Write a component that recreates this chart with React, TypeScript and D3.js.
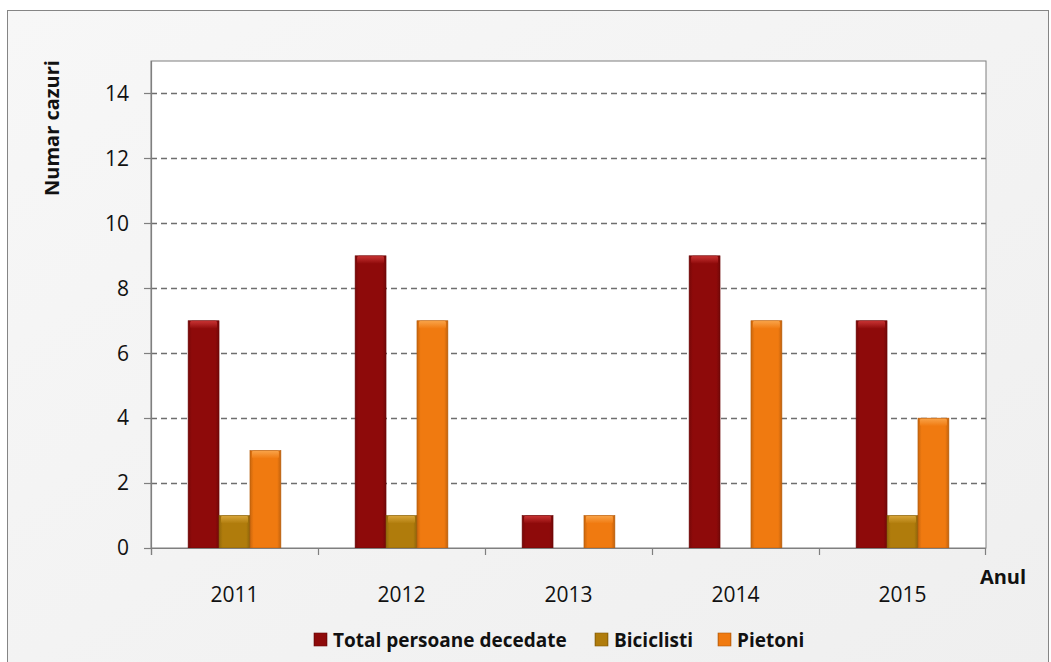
import React from "react";
import * as d3 from "d3";

const years = ["2011", "2012", "2013", "2014", "2015"];
const seriesNames = ["Total persoane decedate", "Biciclisti", "Pietoni"];
const totalValues = [7, 9, 1, 9, 7];
const bicicValues = [1, 1, 0, 0, 1];
const pietoniValues = [3, 7, 1, 7, 4];
const yTicks = [0, 2, 4, 6, 8, 10, 12, 14];
const seriesColors = ["#8e0a0a", "#b07c0c", "#f07a10"];
const seriesLight = ["#c93434", "#d9a63a", "#f9a44a"];

const W = 1051;
const H = 662;
const plot = { left: 151, top: 61, right: 986, bottom: 548 };
const FONT = "'Open Sans', sans-serif";

export default function App() {
  const x = d3.scaleBand<string>().domain(years).range([plot.left, plot.right]).paddingInner(0).paddingOuter(0);
  const y = d3.scaleLinear().domain([0, 15]).range([plot.bottom, plot.top]);
  const inner = d3
    .scaleBand<number>()
    .domain([0, 1, 2])
    .range([0, x.bandwidth()])
    .paddingInner(0)
    .paddingOuter(1.2);
  const allSeries = [totalValues, bicicValues, pietoniValues];

  const legendItems = [
    { x: 314, w: 255 },
    { x: 595, w: 100 },
    { x: 718, w: 100 },
  ];

  return (
    <svg width={W} height={H} style={{ position: "fixed", left: 0, top: 0 }} fontFamily={FONT}>
      <defs>
        <linearGradient id="bgGrad" x1="0" y1="0" x2="1" y2="1">
          <stop offset="0" stopColor="#f7f7f7" />
          <stop offset="1" stopColor="#efefef" />
        </linearGradient>
        {seriesColors.map((c, i) => (
          <linearGradient key={i} id={`bar${i}`} x1="0" y1="0" x2="1" y2="0">
            <stop offset="0" stopColor={d3.color(c)!.darker(0.5).toString()} />
            <stop offset="0.12" stopColor={c} />
            <stop offset="0.88" stopColor={c} />
            <stop offset="1" stopColor={d3.color(c)!.darker(0.6).toString()} />
          </linearGradient>
        ))}
        {seriesColors.map((c, i) => (
          <linearGradient key={"t" + i} id={`top${i}`} x1="0" y1="0" x2="0" y2="1">
            <stop offset="0" stopColor={seriesLight[i]} />
            <stop offset="1" stopColor={c} />
          </linearGradient>
        ))}
      </defs>
      <rect x={0} y={0} width={W} height={H} fill="#ffffff" />
      <rect x={7.5} y={10.5} width={1041} height={660} fill="url(#bgGrad)" stroke="#858585" strokeWidth={1} />
      <rect
        x={plot.left}
        y={plot.top}
        width={plot.right - plot.left}
        height={plot.bottom - plot.top}
        fill="#ffffff"
        stroke="#7f7f7f"
        strokeWidth={1}
      />
      {yTicks
        .filter((t) => t > 0)
        .map((t) => (
          <line
            key={t}
            x1={plot.left}
            x2={plot.right}
            y1={Math.round(y(t)) + 0.5}
            y2={Math.round(y(t)) + 0.5}
            stroke="#6e6e6e"
            strokeWidth={1.3}
            strokeDasharray="6,4"
          />
        ))}
      {years.map((yr, gi) =>
        allSeries.map((vals, si) => {
          const v = vals[gi];
          if (v <= 0) return null;
          const bx = (x(yr) as number) + (inner(si) as number);
          const bw = inner.bandwidth();
          const by = y(v);
          const bh = y(0) - y(v);
          return (
            <g key={yr + si}>
              <rect x={bx} y={by} width={bw} height={bh} fill={`url(#bar${si})`} />
              <rect x={bx + 2} y={by} width={bw - 4} height={Math.min(8, bh)} fill={`url(#top${si})`} rx={2} />
              <rect x={bx} y={by} width={bw} height={bh} fill="none" stroke={d3.color(seriesColors[si])!.darker(0.8).toString()} strokeWidth={0.6} />
            </g>
          );
        })
      )}
      {/* y axis */}
      <line x1={plot.left + 0.5} x2={plot.left + 0.5} y1={plot.top} y2={plot.bottom + 7} stroke="#7f7f7f" strokeWidth={1.2} />
      {yTicks.map((t) => (
        <g key={t}>
          <line x1={plot.left - 7} x2={plot.left} y1={Math.round(y(t)) + 0.5} y2={Math.round(y(t)) + 0.5} stroke="#7f7f7f" strokeWidth={1.2} />
          <text x={129} y={y(t)} dy="0.35em" textAnchor="end" fontSize={21} fill="#111">
            {t}
          </text>
        </g>
      ))}
      {/* x axis */}
      <line x1={plot.left} x2={plot.right} y1={plot.bottom + 0.5} y2={plot.bottom + 0.5} stroke="#7f7f7f" strokeWidth={1.2} />
      {years.map((yr, i) => (
        <line
          key={"xt" + i}
          x1={Math.round(x(yr) as number) + 0.5}
          x2={Math.round(x(yr) as number) + 0.5}
          y1={plot.bottom}
          y2={plot.bottom + 7}
          stroke="#7f7f7f"
          strokeWidth={1.2}
        />
      ))}
      <line x1={plot.right - 0.5} x2={plot.right - 0.5} y1={plot.bottom} y2={plot.bottom + 7} stroke="#7f7f7f" strokeWidth={1.2} />
      {years.map((yr) => (
        <text key={"xl" + yr} x={(x(yr) as number) + x.bandwidth() / 2} y={595} dy="0.35em" textAnchor="middle" fontSize={21} fill="#111">
          {yr}
        </text>
      ))}
      <text x={1003} y={577} dy="0.35em" textAnchor="middle" fontSize={20} fontWeight="bold" fill="#111">
        Anul
      </text>
      <text
        transform={`translate(52,128) rotate(-90)`}
        textAnchor="middle"
        dy="0.35em"
        fontSize={20}
        fontWeight="bold"
        fill="#111"
      >
        Numar cazuri
      </text>
      {/* legend */}
      {seriesNames.map((name, i) => (
        <g key={name}>
          <rect x={legendItems[i].x} y={633} width={13} height={13} fill={`url(#bar${i})`} stroke={d3.color(seriesColors[i])!.darker(0.8).toString()} strokeWidth={0.6} />
          <text x={legendItems[i].x + 19} y={640} dy="0.35em" fontSize={19} fontWeight="bold" fill="#111">
            {name}
          </text>
        </g>
      ))}
    </svg>
  );
}
